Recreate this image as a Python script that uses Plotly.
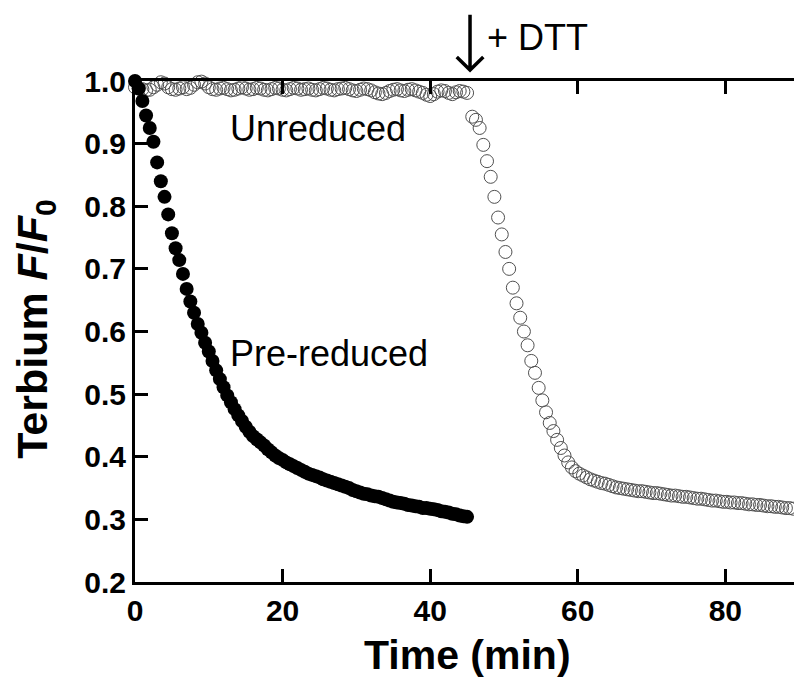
import plotly.graph_objects as go

# ---------------- data ----------------
pre_t = [0.0, 0.5, 1.0, 1.5, 2.0, 2.5, 3.0, 3.5, 4.0, 4.5, 5.0, 5.5, 6.0, 6.5, 7.0, 7.5, 8.0, 8.5, 9.0, 9.5,
         10.0, 10.5, 11.0, 11.5, 12.0, 12.5, 13.0, 13.5, 14.0, 14.5, 15.0, 15.5, 16.0, 16.5, 17.0, 17.5, 18.0, 18.5, 19.0, 19.5,
         20.0, 20.5, 21.0, 21.5, 22.0, 22.5, 23.0, 23.5, 24.0, 24.5, 25.0, 25.5, 26.0, 26.5, 27.0, 27.5, 28.0, 28.5, 29.0, 29.5,
         30.0, 30.5, 31.0, 31.5, 32.0, 32.5, 33.0, 33.5, 34.0, 34.5, 35.0, 35.5, 36.0, 36.5, 37.0, 37.5, 38.0, 38.5, 39.0, 39.5,
         40.0, 40.5, 41.0, 41.5, 42.0, 42.5, 43.0, 43.5, 44.0, 44.5, 45.0]
pre_f = [1.000, 0.988, 0.968, 0.945, 0.925, 0.903, 0.870, 0.840, 0.815, 0.787, 0.757, 0.733, 0.714, 0.692, 0.668, 0.648, 0.630, 0.612, 0.598, 0.582,
         0.568, 0.553, 0.538, 0.524, 0.511, 0.498, 0.487, 0.476, 0.466, 0.457, 0.448, 0.440, 0.433, 0.428, 0.423, 0.418, 0.412, 0.407, 0.402, 0.398,
         0.395, 0.391, 0.388, 0.385, 0.382, 0.379, 0.376, 0.373, 0.371, 0.369, 0.367, 0.364, 0.362, 0.360, 0.358, 0.356, 0.354, 0.352, 0.350, 0.347,
         0.345, 0.343, 0.341, 0.340, 0.338, 0.337, 0.336, 0.334, 0.332, 0.330, 0.328, 0.327, 0.326, 0.325, 0.323, 0.322, 0.321, 0.320, 0.318, 0.318,
         0.317, 0.316, 0.315, 0.313, 0.312, 0.311, 0.309, 0.308, 0.306, 0.305, 0.304]

unred_t = [0.0, 0.5, 1.0, 1.5, 2.0, 2.5, 3.0, 3.5, 4.0, 4.5, 5.0, 5.5, 6.0, 6.5, 7.0, 7.5, 8.0, 8.5, 9.0, 9.5,
           10.0, 10.5, 11.0, 11.5, 12.0, 12.5, 13.0, 13.5, 14.0, 14.5, 15.0, 15.5, 16.0, 16.5, 17.0, 17.5, 18.0, 18.5, 19.0, 19.5,
           20.0, 20.5, 21.0, 21.5, 22.0, 22.5, 23.0, 23.5, 24.0, 24.5, 25.0, 25.5, 26.0, 26.5, 27.0, 27.5, 28.0, 28.5, 29.0, 29.5,
           30.0, 30.5, 31.0, 31.5, 32.0, 32.5, 33.0, 33.5, 34.0, 34.5, 35.0, 35.5, 36.0, 36.5, 37.0, 37.5, 38.0, 38.5, 39.0, 39.5,
           40.0, 40.5, 41.0, 41.5, 42.0, 42.5, 43.0, 43.5, 44.0, 44.5, 45.0,
           45.7, 46.2, 46.7, 47.2, 47.7, 48.2, 48.7, 49.2, 49.7, 50.2, 50.7, 51.2, 51.7, 52.2, 52.7, 53.2, 53.7, 54.2, 54.7, 55.2,
           55.7, 56.2, 56.7, 57.2, 57.7, 58.2, 58.7, 59.2, 59.7, 60.2, 60.7, 61.2, 61.7, 62.2, 62.7, 63.2, 63.7, 64.2, 64.7, 65.2,
           65.7, 66.2, 66.7, 67.2, 67.7, 68.2, 68.7, 69.2, 69.7, 70.2, 70.7, 71.2, 71.7, 72.2, 72.7, 73.2, 73.7, 74.2, 74.7, 75.2,
           75.7, 76.2, 76.7, 77.2, 77.7, 78.2, 78.7, 79.2, 79.7, 80.2, 80.7, 81.2, 81.7, 82.2, 82.7, 83.2, 83.7, 84.2, 84.7, 85.2,
           85.7, 86.2, 86.7, 87.2, 87.7, 88.2, 88.7, 89.2]
unred_f = [0.990, 0.988, 0.987, 0.985, 0.986, 0.990, 0.994, 0.998, 0.996, 0.990, 0.987, 0.986, 0.988, 0.990, 0.987, 0.989, 0.994, 0.998, 0.999, 0.996,
           0.990, 0.987, 0.986, 0.988, 0.989, 0.987, 0.985, 0.986, 0.988, 0.990, 0.988, 0.986, 0.987, 0.989, 0.988, 0.986, 0.985, 0.987, 0.989, 0.988,
           0.986, 0.985, 0.987, 0.989, 0.988, 0.986, 0.987, 0.988, 0.986, 0.985, 0.987, 0.989, 0.988, 0.986, 0.985, 0.987, 0.988, 0.989, 0.987, 0.985,
           0.984, 0.986, 0.988, 0.987, 0.985, 0.982, 0.980, 0.979, 0.981, 0.984, 0.986, 0.987, 0.985, 0.984, 0.986, 0.987, 0.985, 0.983, 0.981, 0.978,
           0.976, 0.979, 0.983, 0.985, 0.984, 0.981, 0.979, 0.982, 0.984, 0.983, 0.981,
           0.943, 0.938, 0.925, 0.898, 0.872, 0.847, 0.815, 0.782, 0.755, 0.727, 0.700, 0.670, 0.645, 0.622, 0.600, 0.578, 0.553, 0.534, 0.510, 0.490,
           0.471, 0.454, 0.441, 0.427, 0.414, 0.402, 0.391, 0.383, 0.377, 0.373, 0.370, 0.367, 0.364, 0.362, 0.360, 0.358, 0.357, 0.355, 0.353, 0.351,
           0.350, 0.349, 0.348, 0.347, 0.346, 0.345, 0.345, 0.344, 0.343, 0.342, 0.342, 0.341, 0.340, 0.339, 0.338, 0.338, 0.337, 0.336, 0.336, 0.335,
           0.334, 0.333, 0.333, 0.332, 0.331, 0.330, 0.330, 0.329, 0.328, 0.328, 0.327, 0.327, 0.326, 0.326, 0.325, 0.324, 0.324, 0.323, 0.323, 0.322,
           0.321, 0.321, 0.320, 0.320, 0.319, 0.318, 0.318, 0.317]

x_ticks = [0, 20, 40, 60, 80]
y_ticks = [0.2, 0.3, 0.4, 0.5, 0.6, 0.7, 0.8, 0.9, 1.0]
y_ticklabels = ["0.2", "0.3", "0.4", "0.5", "0.6", "0.7", "0.8", "0.9", "1.0"]
dtt_time = 45.4

FONT = "Liberation Sans, Arial, sans-serif"

fig = go.Figure()
fig.add_trace(go.Scatter(
    x=unred_t, y=unred_f, mode="markers", name="Unreduced",
    marker=dict(symbol="circle-open", size=13, color="#505050", line=dict(width=1, color="#505050")),
    cliponaxis=False, showlegend=False))
fig.add_trace(go.Scatter(
    x=pre_t, y=pre_f, mode="markers", name="Pre-reduced",
    marker=dict(symbol="circle", size=14, color="black", line=dict(width=0)),
    cliponaxis=False, showlegend=False))

axis_common = dict(showline=True, linecolor="black", linewidth=3, ticks="inside",
                   ticklen=13, tickwidth=3, tickcolor="black", showgrid=False, zeroline=False,
                   tickfont=dict(family=FONT, size=30, color="black", weight="bold"))

fig.update_layout(
    width=794, height=677,
    margin=dict(l=135, r=0, t=81, b=95),
    paper_bgcolor="white", plot_bgcolor="white",
    xaxis=dict(range=[0, 89.3], tickvals=x_ticks, mirror="ticks", **axis_common),
    yaxis=dict(range=[0.2, 1.0], tickvals=y_ticks, ticktext=y_ticklabels, **axis_common),
    yaxis2=dict(range=[0.2, 1.0], tickvals=y_ticks, overlaying="y", side="right", showline=False,
                ticks="inside", ticklen=13, tickwidth=3, tickcolor="black", showticklabels=False,
                showgrid=False, zeroline=False),
    font=dict(family=FONT, color="black"),
)

annotations = [
    dict(text="Time (min)", xref="paper", yref="paper", x=0.505, y=-0.095, xanchor="center", yanchor="top",
         showarrow=False, font=dict(size=41, weight="bold", family=FONT)),
    dict(text="Terbium <i>F</i>/<i>F</i><sub>0</sub>", xref="paper", yref="paper", x=-0.152, y=0.505,
         xanchor="center", yanchor="middle", textangle=-90, showarrow=False,
         font=dict(size=43, weight="bold", family=FONT)),
    dict(text="Unreduced", xref="x", yref="y", x=12.6, y=0.924, xanchor="left", yanchor="middle",
         showarrow=False, font=dict(size=36, family=FONT)),
    dict(text="Pre-reduced", xref="x", yref="y", x=12.6, y=0.565, xanchor="left", yanchor="middle",
         showarrow=False, font=dict(size=36, family=FONT)),
    dict(text="+ DTT", xref="x", yref="paper", x=47.4, y=1.086, xanchor="left", yanchor="middle",
         showarrow=False, font=dict(size=36, family=FONT)),
]
fig.update_layout(annotations=annotations)

# arrow marking DTT addition
fig.add_shape(type="path", xref="x", yref="paper", layer="above",
              path=f"M {dtt_time},1.132 L {dtt_time},1.022 M {dtt_time-1.8},1.048 L {dtt_time},1.022 L {dtt_time+1.8},1.048",
              line=dict(color="black", width=3.5))

fig.write_html("out.html")
